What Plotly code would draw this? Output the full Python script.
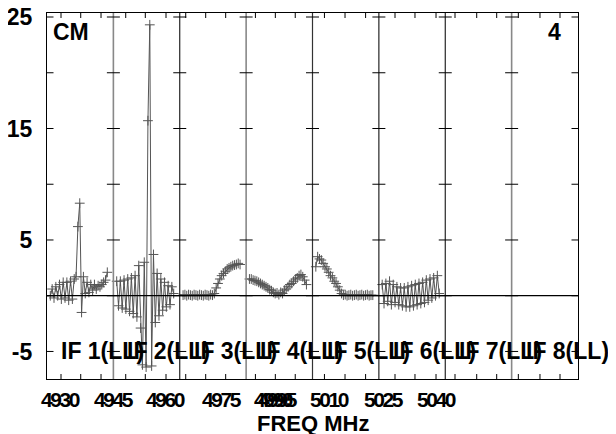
import plotly.graph_objects as go

# ---------------- data ----------------
IF_LABELS = ["IF 1(LL)", "IF 2(LL)", "IF 3(LL)", "IF 4(LL)",
             "IF 5(LL)", "IF 6(LL)", "IF 7(LL)", "IF 8(LL)"]

IF1 = [0.0, 0.6, -0.2, 0.8, 0.0, 1.0, -0.3, 1.2, -0.2, 1.2, -0.4, 1.3, -0.3, 1.5,
       1.7, 6.2, 8.3, -1.5, 1.7, 0.2, 1.2, 0.3, 1.0, 0.5, 1.0, 0.6, 0.9, 0.8,
       1.0, 1.2, 1.4, 2.1]
IF2 = [1.3, -0.9, 1.3, -1.1, 1.4, -1.2, 1.5, -1.4, 1.6, -1.6, 1.8, -1.9, 2.7, -2.9,
       -6.2, 3.0, -6.4, 15.7, 24.3, -6.3, 3.7, -2.4, 2.0, -1.8, 1.5, -1.3, 1.2, -1.0,
       0.9, -0.8, 0.8, 0.2]
IF3 = [0.05, 0.1, 0.0, 0.1, 0.05, 0.0, 0.1, 0.05, 0.0, 0.1, 0.05, 0.0, 0.1, 0.05,
       0.0, 0.1, 0.05, 0.2, 0.7, 1.1, 1.5, 1.8, 2.0, 2.2, 2.4, 2.5, 2.6, 2.7, 2.75,
       2.8, 2.9, 2.8]
IF4 = [1.5, 1.5, 1.4, 1.35, 1.3, 1.2, 1.1, 1.0, 0.9, 0.8, 0.7, 0.55, 0.45, 0.3,
       0.2, 0.25, 0.1, 0.3, 0.2, 0.5, 0.6, 0.8, 1.0, 1.1, 1.3, 1.5, 1.6, 1.8, 1.9,
       1.7, 1.4, 1.0]
IF5 = [2.6, 3.5, 3.3, 3.2, 2.9, 2.6, 2.4, 2.1, 1.8, 1.6, 1.3, 1.1, 0.8, 0.5, 0.2,
       0.05, 0.1, 0.0, 0.05, 0.1, 0.0, 0.05, 0.1, 0.0, 0.05, 0.1, 0.0, 0.05, 0.1,
       0.0, 0.05, 0.05]
IF6 = [1.0, -0.7, 1.1, -0.5, 1.3, -0.8, 1.0, -0.6, 0.8, -0.8, 0.7, -0.9, 0.7, -1.0,
       0.8, -1.0, 0.9, -0.9, 1.0, -0.8, 1.1, -0.7, 1.2, -0.6, 1.4, -0.4, 1.5, -0.2,
       1.6, 0.0, 1.8, 0.2]
IF7 = []
IF8 = []
SPECTRA = [IF1, IF2, IF3, IF4, IF5, IF6, IF7, IF8]

Y_TICK_VALUES = [-5, 5, 15, 25]
Y_TICK_TEXT = ["-5", "5", "15", "25"]
Y_MINOR_VALUES = [-5, 0, 5, 10, 15, 20, 25]
X_TICK_TEXT = ["4930", "4945", "4960", "4975", "4990", "4995", "5010", "5025", "5040"]
X_TICK_AT = [0.20, 1.01, 1.79, 2.63, 3.41, 3.48, 4.26, 5.07, 5.87]
X_MINOR_AT = [0.211, 0.508, 0.814, 1.186, 1.481, 1.793, 2.090, 2.391, 2.692,
              3.14, 3.44, 3.74, 4.18, 4.49, 4.80, 5.243, 5.544, 5.861,
              6.147, 6.474, 6.775, 7.101, 7.427, 7.729]

# ---------------- layout constants ----------------
N_IF = 8
CH_START = 0.05
CH_STEP = 0.0277
Y_RANGE = [-7.47, 25.36]
BOLD = "Liberation Sans, Arial, sans-serif"
# the page body adds an 8px margin, so the plot area is placed 8px up/left
PAGE_OFF = 8

fig = go.Figure()

for k, spec in enumerate(SPECTRA):
    if not spec:
        continue
    xs = [k + CH_START + CH_STEP * c for c in range(len(spec))]
    fig.add_trace(go.Scatter(
        x=xs, y=spec, mode="lines+markers",
        line=dict(color="#555555", width=1),
        marker=dict(symbol="cross-thin-open", size=7,
                    line=dict(color="black", width=1)),
        showlegend=False, hoverinfo="skip"))

shapes = []
sep_styles = [("#888888", 1.6), ("#111111", 1.1), ("#888888", 1.6), ("#333333", 1.2),
              ("#111111", 1.1), ("#111111", 1.1), ("#888888", 1.6)]
for k in range(1, N_IF):
    col, wid = sep_styles[k - 1]
    shapes.append(dict(type="line", xref="x", yref="paper", x0=k, x1=k, y0=0, y1=1,
                       line=dict(color=col, width=wid)))
# zero line
shapes.append(dict(type="line", xref="x", yref="y", x0=0, x1=N_IF, y0=0, y1=0,
                   line=dict(color="black", width=1.2)))
# y ticks at every IF boundary
for k in range(0, N_IF + 1):
    for v in Y_MINOR_VALUES:
        shapes.append(dict(type="line", xref="x", yref="y", xsizemode="pixel", xanchor=k,
                           x0=(-6.5 if k > 0 else 0), x1=(6.5 if k < N_IF else 0),
                           y0=v, y1=v, line=dict(color="black", width=1)))
# x ticks top & bottom
for t in X_MINOR_AT:
    shapes.append(dict(type="line", xref="x", yref="y", ysizemode="pixel",
                       yanchor=Y_RANGE[1], x0=t, x1=t, y0=0, y1=-5,
                       line=dict(color="black", width=1)))
    shapes.append(dict(type="line", xref="x", yref="y", ysizemode="pixel",
                       yanchor=Y_RANGE[0], x0=t, x1=t, y0=0, y1=5,
                       line=dict(color="black", width=1)))

annotations = []
for k, lab in enumerate(IF_LABELS):
    annotations.append(dict(x=k, y=-5, xref="x", yref="y", text=lab, showarrow=False,
                            xanchor="left", yanchor="middle", xshift=12,
                            font=dict(family=BOLD, size=23, color="black", weight="bold")))
for pos, lab in zip(X_TICK_AT, X_TICK_TEXT):
    annotations.append(dict(x=pos, y=0, xref="x", yref="paper",
                            text='<span style="letter-spacing:-2.4px">' + lab + "</span>",
                            showarrow=False, xanchor="center", yanchor="top", yshift=-7,
                            font=dict(family=BOLD, size=21, color="black", weight="bold")))
annotations.append(dict(x=0.5, y=0, xref="paper", yref="paper", text="FREQ MHz",
                        showarrow=False, xanchor="center", yanchor="top", yshift=-30,
                        font=dict(family=BOLD, size=22, color="black", weight="bold")))
annotations.append(dict(x=0, y=1, xref="paper", yref="paper", text="CM", showarrow=False,
                        xanchor="left", yanchor="top", xshift=4, yshift=-4,
                        font=dict(family=BOLD, size=23, color="black", weight="bold")))
annotations.append(dict(x=1, y=1, xref="paper", yref="paper", text="4", showarrow=False,
                        xanchor="right", yanchor="top", xshift=-15, yshift=-4,
                        font=dict(family=BOLD, size=23, color="black", weight="bold")))

W, H = 616, 434
PLOT_L, PLOT_T, PLOT_W, PLOT_H = 47, 13, 531, 366
fig.update_layout(
    width=W, height=H,
    margin=dict(l=PLOT_L - PAGE_OFF, t=PLOT_T - PAGE_OFF,
                r=W - (PLOT_L - PAGE_OFF) - PLOT_W, b=H - (PLOT_T - PAGE_OFF) - PLOT_H,
                autoexpand=False),
    paper_bgcolor="white", plot_bgcolor="white",
    shapes=shapes, annotations=annotations,
    xaxis=dict(range=[0, N_IF], showgrid=False, zeroline=False, showticklabels=False,
               ticks="", showline=True, mirror=True, linecolor="black", linewidth=1.3,
               automargin=False),
    yaxis=dict(range=Y_RANGE, showgrid=False, zeroline=False, tickvals=Y_TICK_VALUES,
               ticktext=Y_TICK_TEXT,
               ticks="", showline=True, mirror=True, linecolor="black", linewidth=1.3,
               ticklabelstandoff=9, automargin=False, ticklabeloverflow="allow",
               tickfont=dict(family=BOLD, size=23, color="black", weight="bold")),
)

fig.write_html("out.html")
